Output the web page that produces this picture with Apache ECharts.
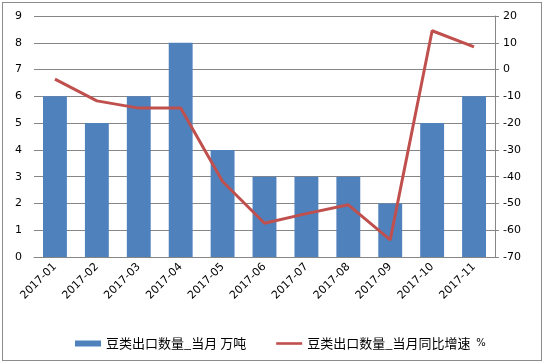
<!DOCTYPE html>
<html><head><meta charset="utf-8">
<script src="https://cdn.jsdelivr.net/npm/echarts@6/dist/echarts.min.js"></script>
<style>html,body{margin:0;padding:0;background:#fff}#c{width:544px;height:364px;box-sizing:border-box;}
#frame{position:absolute;left:2px;top:2px;width:538px;height:357px;border:1px solid #8c8c8c;pointer-events:none}</style>
</head><body>
<div id="c"></div><div id="frame"></div>
<script>
const categories = ['2017-01','2017-02','2017-03','2017-04','2017-05','2017-06','2017-07','2017-08','2017-09','2017-10','2017-11'];
const volume = [6,5,6,8,4,3,3,3,2,5,6];
const growth = [-3.6,-11.7,-14.4,-14.4,-41.8,-57.4,-53.8,-50.5,-63.6,14.5,8.5];
const barName = '豆类出口数量_当月 万吨';
const lineName = '豆类出口数量_当月同比增速';
const chart = echarts.init(document.getElementById('c'));
const font = 'DejaVu Sans, Verdana, sans-serif';
chart.setOption({
  animation:false,
  textStyle:{fontFamily:font},
  grid:{left:34,right:49,top:16,bottom:107},
  legend:{top:332,left:70,itemGap:30,itemWidth:26,itemHeight:6,itemTextGap:3,
    formatter:function(n){return n===lineName? n+' {p|%}' : n;},
    textStyle:{fontFamily:'Noto Sans CJK SC, sans-serif',fontSize:13,color:'#000',
      rich:{p:{fontSize:10,fontFamily:font,color:'#000',padding:[0,0,0,3]}}},
    data:[{name:barName,icon:'rect'},{name:lineName,icon:'path://M0,0H10V1H0Z'}]},
  xAxis:{type:'category',data:categories,
    axisLine:{lineStyle:{color:'#868686'}},axisTick:{show:false},
    axisLabel:{rotate:45,fontSize:11,color:'#000',margin:8,interval:0}},
  yAxis:[
    {type:'value',min:0,max:9,interval:1,
     axisLine:{show:false},axisTick:{show:false},
     splitLine:{lineStyle:{color:'#868686'}},
     axisLabel:{fontSize:11,color:'#000',margin:12}},
    {type:'value',min:-70,max:20,interval:10,
     axisLine:{show:true,lineStyle:{color:'#868686'}},axisTick:{show:true,length:4,lineStyle:{color:'#868686'}},
     splitLine:{show:false},
     axisLabel:{fontSize:11,color:'#000',margin:8}}
  ],
  series:[
    {name:barName,type:'bar',data:volume,barWidth:'57%',itemStyle:{color:'#4F81BD'}},
    {name:lineName,type:'line',yAxisIndex:1,data:growth,symbol:'none',
     lineStyle:{color:'#C0504D',width:3},itemStyle:{color:'#C0504D'}}
  ]
});
</script>
</body></html>
